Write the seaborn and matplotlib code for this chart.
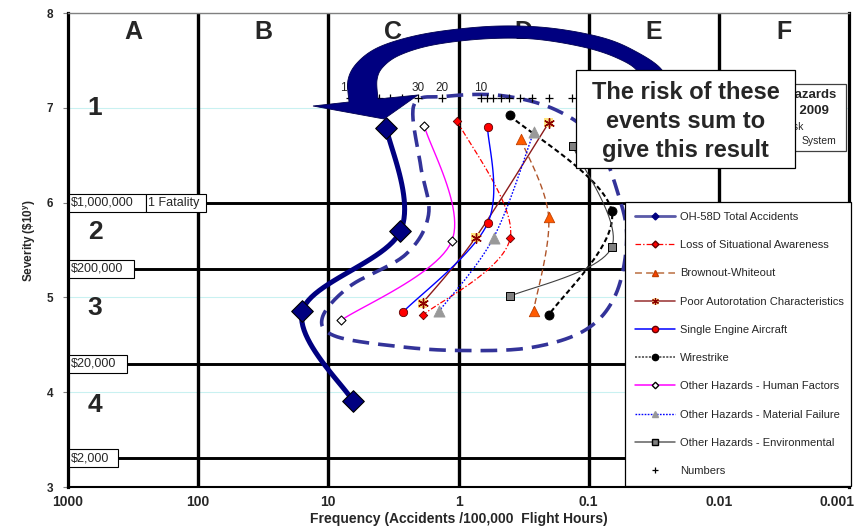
import numpy as np
import pandas as pd
import matplotlib
matplotlib.use("Agg")
import matplotlib.pyplot as plt
import seaborn as sns
from matplotlib.lines import Line2D
from matplotlib.patches import Rectangle, PathPatch
from matplotlib.path import Path
from matplotlib.transforms import Affine2D, ScaledTranslation, blended_transform_factory

W, H = 861, 528

# ---------------- axes / annotation values ----------------
freq_ticks = [1000, 100, 10, 1, 0.1, 0.01, 0.001]
freq_tick_labels = ["1000", "100", "10", "1", "0.1", "0.01", "0.001"]
severity_ticks = [3, 4, 5, 6, 7, 8]

column_letters = ["A", "B", "C", "D", "E", "F"]
column_centers = [316.2, 31.62, 3.162, 0.3162, 0.03162, 0.003162]
row_numbers = ["1", "2", "3", "4"]
row_severity = [7.0, 5.69, 4.89, 3.87]

cost_labels = ["$1,000,000", "$200,000", "$20,000", "$2,000"]
cost_severity = [6.0, 5.301, 4.301, 3.301]

# ---------------- hazard series: frequency (per 100,000 h) / severity (log10 $) ----------------
total_freq = [3.58, 2.79, 15.8, 6.5]
total_sev = [6.79, 5.70, 4.86, 3.91]

lsa_freq = [1.02, 0.40, 1.89]
lsa_sev = [6.86, 5.63, 4.81]

brownout_freq = [0.333, 0.203, 0.265]
brownout_sev = [6.67, 5.85, 4.86]

autorot_freq = [0.203, 0.74, 1.89]
autorot_sev = [6.84, 5.63, 4.94]

single_freq = [0.598, 0.598, 2.65]
single_sev = [6.80, 5.78, 4.85]

wire_freq = [0.405, 0.0665, 0.203]
wire_sev = [6.92, 5.91, 4.81]

human_freq = [1.83, 1.13, 7.94]
human_sev = [6.81, 5.59, 4.76]

material_freq = [0.265, 0.538, 1.40]
material_sev = [6.74, 5.63, 4.86]

environ_freq = [0.133, 0.0665, 0.405]
environ_sev = [6.60, 5.53, 5.01]

# accident-count scale
number_counts = [100, 90, 80, 70, 60, 50, 40, 30, 20, 10, 9, 8, 7, 6, 5, 4, 3, 2, 1]
number_freq = [6.77, 6.09, 5.41, 4.74, 4.06, 3.38, 2.71, 2.03, 1.35, 0.677,
               0.609, 0.541, 0.474, 0.406, 0.338, 0.271, 0.203, 0.135, 0.068]
number_sev = 7.1
number_labelled = [100, 30, 20, 10]

# combined risk envelope (closed outline)
envelope_freq = [2.2, 1.96, 1.7, 2.56, 6.8, 11.1, 8.8, 2.8, 0.97, 0.28,
                 0.105, 0.062, 0.051, 0.059, 0.088, 0.18, 0.475, 1.26]
envelope_sev = [7.03, 6.40, 5.87, 5.45, 5.12, 4.79, 4.59, 4.48, 4.44, 4.47,
                4.66, 5.03, 5.61, 6.08, 6.66, 6.98, 7.13, 7.12]

# ---------------- style ----------------
sns.set_theme(style="white")
plt.rcParams["font.family"] = ["Liberation Sans", "DejaVu Sans"]
plt.rcParams["lines.scale_dashes"] = False
plt.rcParams["mathtext.fontset"] = "custom"
plt.rcParams["mathtext.rm"] = "Liberation Sans:bold"
plt.rcParams["mathtext.it"] = "Liberation Sans:bold"
plt.rcParams["mathtext.default"] = "rm"

fig = plt.figure(figsize=(W / 100, H / 100), dpi=100)
fig.patch.set_facecolor("white")
ax = fig.add_axes([68 / W, 41 / H, 781 / W, 474 / H])
ax.set_xscale("log")
ax.set_xlim(1000, 0.001)
ax.set_ylim(3, 8)

# pixel-space transform (origin top-left) for the callout graphics
px = Affine2D().scale(1 / W, -1 / H).translate(0, 1) + fig.transFigure


def catmull(points, closed=False, n=24):
    P = np.asarray(points, float)
    if closed:
        ext = np.vstack([P[-1], P, P[0], P[1]])
    else:
        ext = np.vstack([P[0], P, P[-1]])
    out = []
    t = np.linspace(0, 1, n, endpoint=False)[:, None]
    for i in range(1, len(ext) - 2):
        p0, p1, p2, p3 = ext[i - 1:i + 3]
        out.append(0.5 * (2 * p1 + (-p0 + p2) * t + (2 * p0 - 5 * p1 + 4 * p2 - p3) * t ** 2
                          + (-p0 + 3 * p1 - 3 * p2 + p3) * t ** 3))
    out.append(ext[-2][None, :])
    return np.vstack(out)


def smooth_line(freq, sev, closed=False, **kw):
    c = catmull(np.column_stack([np.log10(freq), sev]), closed=closed)
    ax.plot(10 ** c[:, 0], c[:, 1], **kw)


def markers(freq, sev, **kw):
    df = pd.DataFrame({"freq": freq, "sev": sev})
    sns.scatterplot(data=df, x="freq", y="sev", ax=ax, legend=False, **kw)


# ---------------- grid ----------------
ax.set_axisbelow(True)
ax.yaxis.grid(True, color="#c9f1f1", lw=0.8)
ax.xaxis.grid(False)
for f in freq_ticks[1:-1]:
    ax.axvline(f, color="black", lw=2.4, zorder=1.5)
for v in cost_severity:
    ax.axhline(v, color="black", lw=2.1, zorder=1.5)

for s in ["left", "right"]:
    ax.spines[s].set_color("black")
    ax.spines[s].set_linewidth(2.3)
ax.spines["bottom"].set_color("black")
ax.spines["bottom"].set_linewidth(1.5)
ax.spines["top"].set_color("#808080")
ax.spines["top"].set_linewidth(1.0)

ax.set_xticks(freq_ticks)
ax.set_xticklabels(freq_tick_labels)
ax.xaxis.set_minor_locator(matplotlib.ticker.NullLocator())
ax.set_yticks(severity_ticks)
ax.tick_params(axis="x", length=0, pad=6, labelsize=10)
ax.tick_params(axis="y", length=3.5, width=0.8, color="#808080", pad=7, labelsize=8.5, left=True)
for lab in ax.get_xticklabels() + ax.get_yticklabels():
    lab.set_fontweight("bold")
last = ax.get_xticklabels()[-1]
last.set_horizontalalignment("right")
last.set_transform(last.get_transform() + ScaledTranslation(6 / 100, 0, fig.dpi_scale_trans))

ax.set_xlabel("Frequency (Accidents /100,000  Flight Hours)", fontsize=10, fontweight="bold", labelpad=2)
ax.set_ylabel(r"Severity (\$10$^{y}$)", fontsize=8.5, fontweight="bold")
ax.yaxis.set_label_coords(-0.038, 0.52)

# column letters and row numbers
for lab, f in zip(column_letters, column_centers):
    ax.text(f, 7.8, lab, ha="center", va="center", fontsize=18, fontweight="bold", zorder=2)
for lab, v in zip(row_numbers, row_severity):
    ax.text(620, v, lab, ha="center", va="center", fontsize=19, fontweight="bold", zorder=2)

# cost labels on the severity bands
band = blended_transform_factory(px, ax.transData)
box_right = [146, 134, 127, 118]
for lab, v, xr in zip(cost_labels, cost_severity, box_right):
    ax.add_patch(Rectangle((69, v - 0.095), xr - 69, 0.19, transform=band, fc="white",
                           ec="black", lw=0.8, zorder=6, clip_on=False))
    ax.text(71, v, lab.replace("$", r"\$"), transform=band, ha="left", va="center",
            fontsize=9, zorder=7)
ax.add_patch(Rectangle((146, 6 - 0.095), 60, 0.19, transform=band, fc="white",
                       ec="black", lw=0.8, zorder=6, clip_on=False))
ax.text(148, 6, "1 Fatality", transform=band, ha="left", va="center", fontsize=9, zorder=7)

# ---------------- envelope ----------------
smooth_line(envelope_freq, envelope_sev, closed=True, color="#333399", lw=2.6,
            dashes=(12, 6.5), zorder=3)

# ---------------- hazard curves ----------------
smooth_line(total_freq, total_sev, color="#000080", lw=3.6, zorder=4, solid_capstyle="round")
markers(total_freq, total_sev, marker="D", s=11 ** 2, color="#000080", edgecolor="black", linewidth=0.8, zorder=5)

smooth_line(lsa_freq, lsa_sev, color="#ff0000", lw=0.9, dashes=(4, 1.5, 1, 1.5), zorder=4)
markers(lsa_freq, lsa_sev, marker="D", s=4.3 ** 2, color="#ff0000", edgecolor="#600000", linewidth=0.6, zorder=5)

smooth_line(brownout_freq, brownout_sev, color="#b0552a", lw=1.0, dashes=(4.5, 2.5), zorder=4)
markers(brownout_freq, brownout_sev, marker="^", s=7.5 ** 2, color="#ff5a00", edgecolor="#c04000", linewidth=0.6, zorder=5)

smooth_line(autorot_freq, autorot_sev, color="#8b1a1a", lw=1.0, zorder=4)
markers(autorot_freq, autorot_sev, marker="s", s=6.5 ** 2, color="#ffe57f", edgecolor="none", linewidth=0, zorder=5)
markers(autorot_freq, autorot_sev, marker=(6, 2, 0), s=7 ** 2, color="#8b0000", linewidth=1.0, zorder=5.5)

smooth_line(single_freq, single_sev, color="#0000ff", lw=1.0, zorder=4)
markers(single_freq, single_sev, marker="o", s=6 ** 2, color="#ff0000", edgecolor="#600000", linewidth=0.6, zorder=5)

smooth_line(wire_freq, wire_sev, color="black", lw=1.5, dashes=(3.6, 2.2), zorder=4)
markers(wire_freq, wire_sev, marker="o", s=6.5 ** 2, color="black", edgecolor="black", linewidth=0.6, zorder=5)

smooth_line(human_freq, human_sev, color="#ff00ff", lw=1.0, zorder=4)
markers(human_freq, human_sev, marker="D", s=4.6 ** 2, color="white", edgecolor="black", linewidth=0.8, zorder=5)

smooth_line(material_freq, material_sev, color="#0000ff", lw=1.0, dashes=(1.2, 1.2), zorder=4)
markers(material_freq, material_sev, marker="^", s=8 ** 2, color="#999999", edgecolor="#999999", linewidth=0.6, zorder=5)

smooth_line(environ_freq, environ_sev, color="#404040", lw=0.8, zorder=4)
markers(environ_freq, environ_sev, marker="s", s=6 ** 2, color="#808080", edgecolor="black", linewidth=0.7, zorder=5)

# accident-count scale
markers(number_freq, [number_sev] * len(number_freq), marker="+", s=6 ** 2, color="black", linewidth=0.9, zorder=5)
for n, f in zip(number_counts, number_freq):
    if n in number_labelled:
        ax.annotate(str(n), (f, number_sev), xytext=(0, 7.5), textcoords="offset points",
                    ha="center", va="center", fontsize=8.5, zorder=5)

# ---------------- curved callout arrow ----------------
outer = catmull([(668, 95), (662, 70), (633, 50), (600, 37), (550, 28), (500, 26), (450, 30),
                 (410, 37), (377, 48), (357, 63), (348, 80), (349, 102)], n=12)
inner = catmull([(378, 99), (377, 80), (383, 67), (400, 55), (433, 45), (483, 39), (533, 39),
                 (583, 47), (617, 58), (638, 72), (642, 95)], n=12)
head = np.array([(313, 106), (384, 119), (418, 95)])
poly = np.vstack([outer, head, inner, outer[:1]])
codes = [Path.MOVETO] + [Path.LINETO] * (len(poly) - 2) + [Path.CLOSEPOLY]
ax.add_patch(PathPatch(Path(poly, codes), transform=px, fc="#000080", ec="#000050",
                       lw=0.6, zorder=8, clip_on=False))

# ---------------- text boxes ----------------
ax.add_patch(Rectangle((760, 84), 86, 67, transform=px, fc="white", ec="#404040",
                       lw=0.9, zorder=9, clip_on=False))
ax.text(836, 95, "Hazards", transform=px, ha="right", va="center", fontsize=9.5,
        fontweight="bold", zorder=9.5)
ax.text(829, 111, "FY 2009", transform=px, ha="right", va="center", fontsize=9.5,
        fontweight="bold", zorder=9.5)
ax.text(803, 127, "Risk", transform=px, ha="right", va="center", fontsize=7.5, zorder=9.5)
ax.text(836, 141, "System", transform=px, ha="right", va="center", fontsize=7.5, zorder=9.5)

ax.add_patch(Rectangle((576, 70), 219, 98, transform=px, fc="white", ec="black",
                       lw=0.9, zorder=10, clip_on=False))
ax.text(685.5, 121.5, "The risk of these\nevents sum to\ngive this result", transform=px,
        ha="center", va="center", fontsize=17, fontweight="bold", linespacing=1.35, zorder=11)

# ---------------- legend ----------------
handles = [
    Line2D([], [], color="#5a5aa8", lw=2, marker="D", ms=3.5, mfc="#000080", mec="#000080"),
    Line2D([], [], color="#ff0000", lw=0.9, dashes=(4, 1.5, 1, 1.5), marker="D", ms=3.5, mfc="#ff0000", mec="#600000"),
    Line2D([], [], color="#c07a50", lw=1.2, dashes=(5, 3), marker="^", ms=4.5, mfc="#ff4000", mec="#c04000"),
    (Line2D([], [], color="#a04040", lw=1.2, marker="s", ms=4.5, mfc="#ffe57f", mec="none"),
     Line2D([], [], ls="none", marker=(6, 2, 0), ms=5, mec="#8b0000", mew=0.9)),
    Line2D([], [], color="#0000ff", lw=1.1, marker="o", ms=4.5, mfc="#ff0000", mec="#600000"),
    Line2D([], [], color="#404040", lw=1.1, dashes=(1.5, 1), marker="o", ms=4.5, mfc="black", mec="black"),
    Line2D([], [], color="#ff00ff", lw=1.1, marker="D", ms=3.3, mfc="white", mec="black"),
    Line2D([], [], color="#0000ff", lw=1.0, dashes=(1.2, 1.0), marker="^", ms=5, mfc="#999999", mec="#999999"),
    Line2D([], [], color="#606060", lw=1.1, marker="s", ms=4.2, mfc="#808080", mec="black"),
    Line2D([], [], ls="none", marker="+", ms=4.5, mec="black", mew=0.9),
]
legend_labels = ["OH-58D Total Accidents", "Loss of Situational Awareness", "Brownout-Whiteout",
                 "Poor Autorotation Characteristics", "Single Engine Aircraft", "Wirestrike",
                 "Other Hazards - Human Factors", "Other Hazards - Material Failure",
                 "Other Hazards - Environmental", "Numbers"]
leg = ax.legend(handles, legend_labels, loc="upper left",
                bbox_to_anchor=(625 / W, 1 - 482 / H, 226 / W, 280 / H),
                bbox_transform=fig.transFigure, mode="expand", borderaxespad=0,
                fontsize=8, labelspacing=1.64, borderpad=0.9, handlelength=3.6,
                handletextpad=0.45, frameon=True, fancybox=False, framealpha=1)
leg.get_frame().set_edgecolor("black")
leg.get_frame().set_linewidth(0.9)
leg.set_zorder(12)

fig.savefig("out.png", dpi=100, facecolor="white")
